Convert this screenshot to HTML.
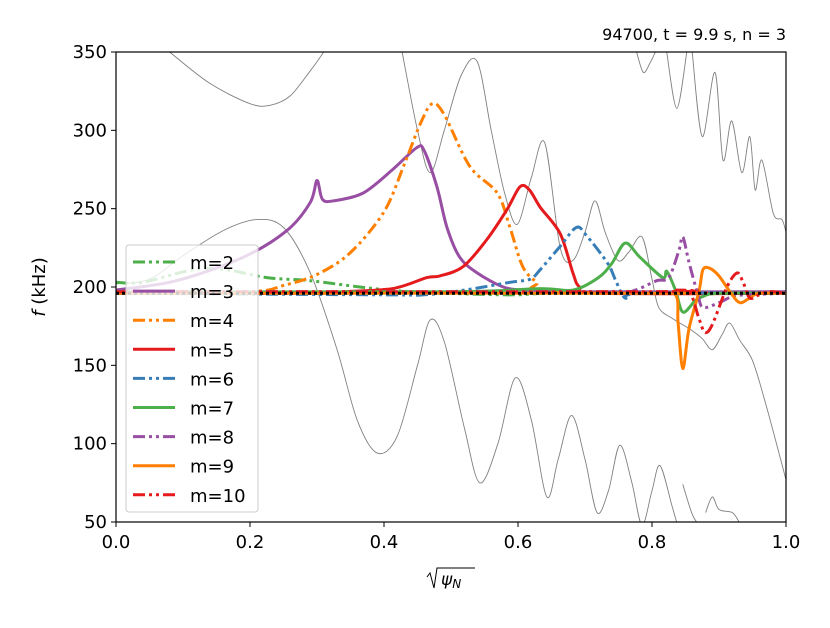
<!DOCTYPE html>
<html><head><meta charset="utf-8"><style>
body{margin:0;background:#fff}
svg text{font-family:"DejaVu Sans","Liberation Sans",sans-serif;fill:#000}
</style></head><body>
<svg id="chart" width="830" height="623" viewBox="0 0 830 623" xmlns="http://www.w3.org/2000/svg">
<rect width="830" height="623" fill="#fff"/>
<g id="plot"></g>
<g id="axes"></g>
<text x="786" y="40" text-anchor="end" font-size="16">94700, t = 9.9 s, n = 3</text>
<text transform="translate(45,287) rotate(-90)" text-anchor="middle" font-size="18"><tspan font-style="italic">f</tspan> (kHz)</text>
<g>
<path d="M427,577 l3,-4 l4,15 l3,-20 h38" fill="none" stroke="#000" stroke-width="1"/>
<text x="441" y="585" font-size="17" font-style="italic">ψ<tspan font-size="12" dy="3">N</tspan></text>
</g>
</svg>
<script>
const xTicks=[0,0.2,0.4,0.6,0.8,1.0];
const xTickLabels=["0.0","0.2","0.4","0.6","0.8","1.0"];
const yTicks=[50,100,150,200,250,300,350];
const yTickLabels=["50","100","150","200","250","300","350"];
const refFreq=196;
const gray1=[[0.08,350],[0.14,330],[0.2,317],[0.23,316],[0.26,322],[0.29,338],[0.31,350]];
const gray2=[[0,202],[0.05,205],[0.1,220],[0.16,236],[0.21,243],[0.25,238],[0.29,209],[0.33,160],[0.36,115],[0.39,94],[0.42,105],[0.45,150],[0.469,179],[0.49,165],[0.52,110],[0.543,75],[0.57,100],[0.596,142],[0.62,115],[0.643,66],[0.66,90],[0.68,118],[0.7,90],[0.718,56],[0.735,70],[0.752,99],[0.77,75],[0.785,48],[0.8,70],[0.812,86],[0.83,60],[0.838,48]];
const gray3=[[0.846,74],[0.86,55],[0.87,48]];
const gray4=[[0.88,56],[0.89,66],[0.9,58],[0.92,56],[0.93,50]];
const gray5=[[0.427,350],[0.45,300],[0.469,273],[0.49,300],[0.515,335],[0.539,344],[0.56,300],[0.58,260],[0.599,240],[0.62,270],[0.64,292],[0.663,225],[0.682,217],[0.7,235],[0.715,255],[0.73,235],[0.749,217],[0.765,222],[0.785,232],[0.8,205],[0.81,187],[0.83,180],[0.857,173],[0.875,167],[0.89,160],[0.905,170],[0.916,177],[0.931,166],[0.95,153],[0.97,125],[1.0,77]];
const gray6=[[0.777,350],[0.787,337],[0.797,343],[0.805,350]];
const gray7=[[0.822,350],[0.837,314],[0.852,350]];
const gray8=[[0.86,350],[0.875,296],[0.894,337],[0.906,281],[0.919,306],[0.934,273],[0.946,296],[0.954,262],[0.964,281],[0.981,247],[0.994,243],[1.0,235]];
const grayLines=[gray1,gray2,gray3,gray4,gray5,gray6,gray7,gray8];
const m2=[[0,203],[0.04,203],[0.115,211],[0.165,211],[0.225,206],[0.29,204],[0.364,200],[0.44,197],[0.58,195],[0.64,196],[0.7,196],[1,196]];
const m3=[[0,198],[0.09,204],[0.19,219],[0.255,236],[0.29,254],[0.3,268],[0.308,256],[0.325,255],[0.369,260],[0.413,275],[0.449,289],[0.46,287],[0.479,264],[0.494,238],[0.513,219],[0.539,209],[0.578,200],[0.61,198],[0.66,197],[1,197]];
const m4=[[0,196],[0.2,197],[0.25,201],[0.3,208],[0.35,222],[0.4,248],[0.43,278],[0.455,305],[0.472,317],[0.49,310],[0.528,277],[0.569,260],[0.588,238],[0.607,213],[0.628,203],[0.65,197],[1,196]];
const m5=[[0,196],[0.3,196],[0.339,197],[0.413,199],[0.464,206],[0.483,207],[0.518,213],[0.553,230],[0.583,249],[0.603,264],[0.617,262],[0.633,251],[0.663,234],[0.682,209],[0.692,200],[0.72,196],[1,196]];
const m6=[[0,196],[0.4,195],[0.46,195],[0.52,198],[0.588,203],[0.618,205],[0.633,211],[0.663,226],[0.687,238],[0.702,233],[0.734,215],[0.746,204],[0.76,193],[0.784,196],[1,196]];
const m7=[[0,197],[0.5,197],[0.633,199],[0.682,198],[0.72,206],[0.74,215],[0.76,228],[0.782,219],[0.816,206],[0.822,210],[0.835,198],[0.846,184],[0.864,191],[0.876,194],[0.9,196],[1,196]];
const m8=[[0,197],[0.6,197],[0.75,197],[0.775,198],[0.807,204],[0.825,206],[0.84,223],[0.846,232],[0.855,216],[0.868,196],[0.876,187],[0.9,190],[0.92,194],[0.94,195],[1,196]];
const m9=[[0,196],[0.8,196],[0.835,195],[0.839,177],[0.846,148],[0.855,173],[0.87,197],[0.876,211],[0.886,212],[0.9,207],[0.918,196],[0.931,190],[0.946,193],[0.96,196],[1,196]];
const m10=[[0,197],[0.8,197],[0.837,198],[0.857,196],[0.87,180],[0.879,171],[0.89,176],[0.912,200],[0.927,209],[0.936,203],[0.946,193],[0.96,195],[0.975,197],[1,196]];
const seriesLabels=["m=2","m=3","m=4","m=5","m=6","m=7","m=8","m=9","m=10"];
const seriesData=[m2,m3,m4,m5,m6,m7,m8,m9,m10];

const X0=116,X1=786,Y0=522,Y1=52;
function sx(v){return X0+(X1-X0)*v;}
function sy(f){return Y0-(Y0-Y1)*(f-50)/300;}
const NS="http://www.w3.org/2000/svg";
const colors=["#4daf4a","#984ea3","#ff7f00","#e41a1c","#377eb8","#4daf4a","#984ea3","#ff7f00","#e41a1c"];
const dashes=["12,4,3,4,3,4",null,"12,4,3,4,3,4",null,"12,4,3,4,3,4",null,"12,4,3,4,3,4",null,"12,4,3,4,3,4"];
const plot=document.getElementById('plot');
const axes=document.getElementById('axes');
const defs=document.createElementNS(NS,'defs');
defs.innerHTML='<clipPath id="clip"><rect x="116" y="52" width="670" height="470"/></clipPath>';
document.getElementById('chart').prepend(defs);
plot.setAttribute('clip-path','url(#clip)');
function smooth(a){
  const p=a.map(q=>[sx(q[0]),sy(q[1])]);
  let d='M'+p[0][0].toFixed(1)+','+p[0][1].toFixed(1);
  for(let i=0;i<p.length-1;i++){
    const p0=p[Math.max(0,i-1)],p1=p[i],p2=p[i+1],p3=p[Math.min(p.length-1,i+2)];
    const t=0.16;
    const c1=[p1[0]+(p2[0]-p0[0])*t,p1[1]+(p2[1]-p0[1])*t];
    const c2=[p2[0]-(p3[0]-p1[0])*t,p2[1]-(p3[1]-p1[1])*t];
    d+=' C'+c1[0].toFixed(1)+','+c1[1].toFixed(1)+' '+c2[0].toFixed(1)+','+c2[1].toFixed(1)+' '+p2[0].toFixed(1)+','+p2[1].toFixed(1);
  }
  return d;
}
grayLines.forEach((g,i)=>{
  const l=document.createElementNS(NS,'path');
  l.setAttribute('d',smooth(g));
  l.setAttribute('fill','none');l.setAttribute('stroke','#808080');l.setAttribute('stroke-width','0.9');
  
  
  plot.appendChild(l);
});
seriesData.forEach((s,i)=>{
  const l=document.createElementNS(NS,'path');
  l.setAttribute('d',smooth(s));
  l.setAttribute('fill','none');l.setAttribute('stroke',colors[i]);l.setAttribute('stroke-width','3');
  l.setAttribute('stroke-linejoin','round');
  if(dashes[i])l.setAttribute('stroke-dasharray',dashes[i]);
  
  
  plot.appendChild(l);
});
const ref=document.createElementNS(NS,'line');
ref.setAttribute('x1',sx(0));ref.setAttribute('x2',sx(1));
ref.setAttribute('y1',sy(refFreq));ref.setAttribute('y2',sy(refFreq));
ref.setAttribute('stroke','#000');ref.setAttribute('stroke-width','3');ref.setAttribute('stroke-dasharray','3,3');


plot.appendChild(ref);
const fr=document.createElementNS(NS,'rect');
fr.setAttribute('x',X0);fr.setAttribute('y',Y1);fr.setAttribute('width',X1-X0);fr.setAttribute('height',Y0-Y1);
fr.setAttribute('fill','none');fr.setAttribute('stroke','#000');fr.setAttribute('stroke-width','1.2');


axes.appendChild(fr);
xTicks.forEach((v,i)=>{
  const t=document.createElementNS(NS,'line');
  t.setAttribute('x1',sx(v));t.setAttribute('x2',sx(v));t.setAttribute('y1',Y0);t.setAttribute('y2',Y0+5);
  t.setAttribute('stroke','#000');
  
  
  axes.appendChild(t);
  const tx=document.createElementNS(NS,'text');
  tx.setAttribute('x',sx(v));tx.setAttribute('y',Y0+26);tx.setAttribute('text-anchor','middle');tx.setAttribute('font-size','18');
  tx.textContent=xTickLabels[i];
  
  
  axes.appendChild(tx);
});
yTicks.forEach((v,i)=>{
  const t=document.createElementNS(NS,'line');
  t.setAttribute('x1',X0-5);t.setAttribute('x2',X0);t.setAttribute('y1',sy(v));t.setAttribute('y2',sy(v));
  t.setAttribute('stroke','#000');
  
  
  axes.appendChild(t);
  const tx=document.createElementNS(NS,'text');
  tx.setAttribute('x',X0-9);tx.setAttribute('y',sy(v)+6);tx.setAttribute('text-anchor','end');tx.setAttribute('font-size','18');
  tx.textContent=yTickLabels[i];
  
  
  axes.appendChild(tx);
});
const lg=document.createElementNS(NS,'g');


axes.appendChild(lg);
const lb=document.createElementNS(NS,'rect');
lb.setAttribute('x',126);lb.setAttribute('y',245);lb.setAttribute('width',132);lb.setAttribute('height',267);lb.setAttribute('rx',3);
lb.setAttribute('fill','rgba(255,255,255,0.8)');lb.setAttribute('stroke','#ccc');


lg.appendChild(lb);
seriesLabels.forEach((lab,i)=>{
  const y=262+i*29.1;
  const l=document.createElementNS(NS,'line');
  l.setAttribute('x1',133);l.setAttribute('x2',175);l.setAttribute('y1',y);l.setAttribute('y2',y);
  l.setAttribute('stroke',colors[i]);l.setAttribute('stroke-width','3');
  if(dashes[i])l.setAttribute('stroke-dasharray',dashes[i]);
  
  
  lg.appendChild(l);
  const tx=document.createElementNS(NS,'text');
  tx.setAttribute('x',190);tx.setAttribute('y',y+7);tx.setAttribute('font-size','18');
  tx.textContent=lab;
  
  
  lg.appendChild(tx);
});
</script>
</body></html>
